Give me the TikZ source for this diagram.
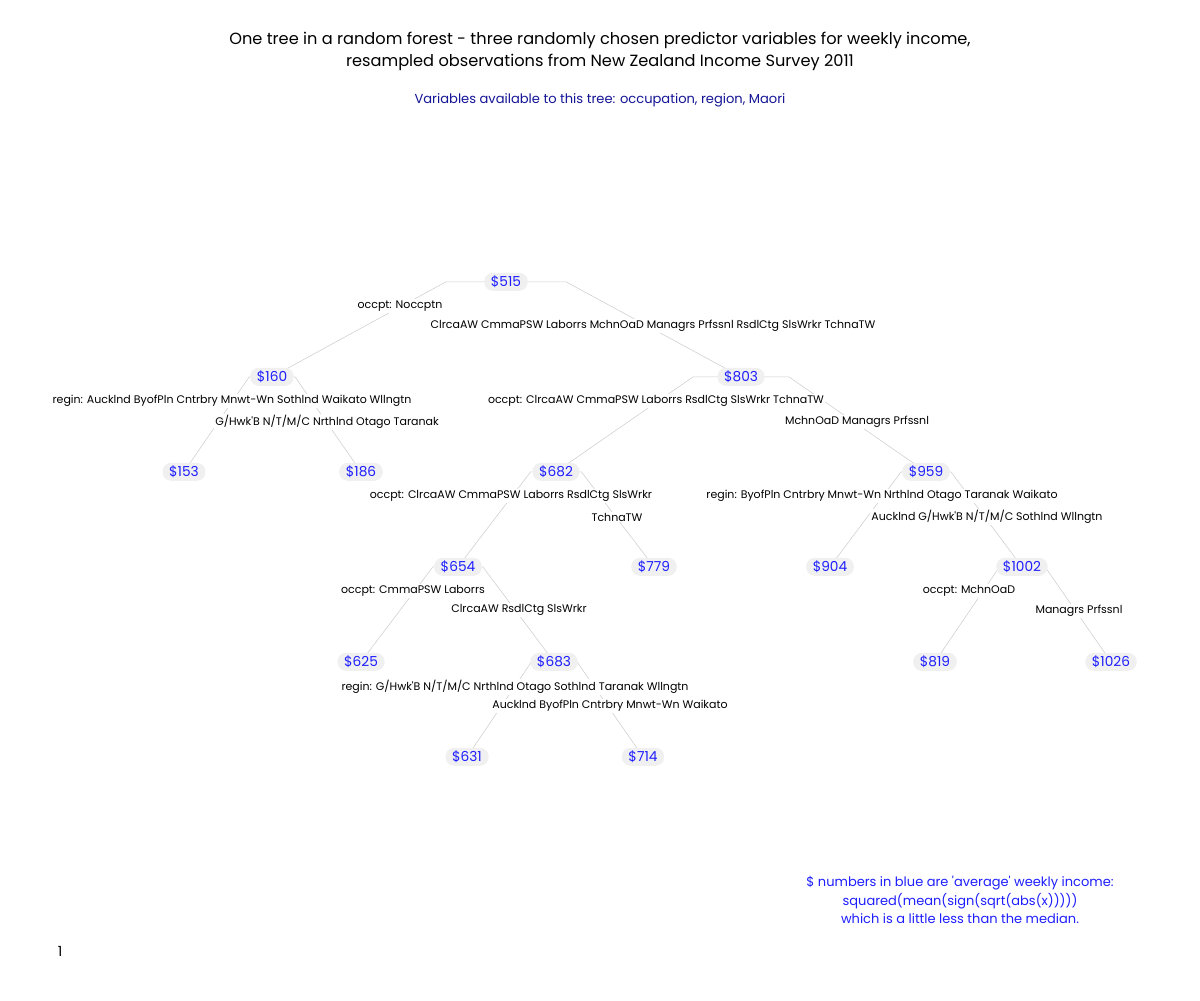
\documentclass[tikz,border=0pt]{standalone}
\usepackage{fontspec}
\setmainfont{Poppins}
\usetikzlibrary{backgrounds}

\definecolor{valblue}{RGB}{30,30,255}
\definecolor{subblue}{RGB}{20,20,150}
\definecolor{pillgray}{RGB}{240,240,240}
\definecolor{edgegray}{RGB}{205,205,205}

\newcommand\branch[2]{%
  \path (#1) -- (#2) coordinate[pos=0.2] (#1#2m);
  \draw[edge] (#1.center) -- (#1#2m |- #1.center) -- (#2.center);}

\begin{document}
\begin{tikzpicture}[x=0.75pt,y=-0.75pt,
    val/.style={fill=pillgray,text=valblue,rounded corners=6.5pt,minimum height=13.5pt,
      inner xsep=5pt,inner ysep=1pt,yshift=-0.6pt,font=\fontsize{10.3}{12}\selectfont},
    split/.style={fill=white,inner sep=1pt,yshift=-1.5pt,font=\fontsize{8.25}{10}\selectfont},
    edge/.style={draw=edgegray,line width=0.4pt}]
    \useasboundingbox (0,0) rectangle (1200,1000);

    \node[align=center,font=\fontsize{12.15}{16.5}\selectfont] (title) at (600,51)
      {One tree in a random forest - three randomly chosen predictor variables for weekly income,\\
       resampled observations from New Zealand Income Survey 2011};
    \node[text=subblue,font=\fontsize{9.8}{11}\selectfont] (subtitle) at (600,100)
      {Variables available to this tree: occupation, region, Maori};

    \node[val] (t515) at (506,281) {\$515};
    \node[val] (t160) at (272,376) {\$160};
    \node[val] (t803) at (741,376) {\$803};
    \node[val] (t153) at (184,471) {\$153};
    \node[val] (t186) at (361,471) {\$186};
    \node[val] (t682) at (556,471) {\$682};
    \node[val] (t959) at (926,471) {\$959};
    \node[val] (t654) at (458,566) {\$654};
    \node[val] (t779) at (654,566) {\$779};
    \node[val] (t904) at (830,566) {\$904};
    \node[val] (t1002) at (1022,566) {\$1002};
    \node[val] (t625) at (361,661) {\$625};
    \node[val] (t683) at (554,661) {\$683};
    \node[val] (t819) at (935,661) {\$819};
    \node[val] (t1026) at (1111,661) {\$1026};
    \node[val] (t631) at (467,756) {\$631};
    \node[val] (t714) at (643,756) {\$714};

    \begin{pgfonlayer}{background}
      \branch{t515}{t160} \branch{t515}{t803}
      \branch{t160}{t153} \branch{t160}{t186}
      \branch{t803}{t682} \branch{t803}{t959}
      \branch{t682}{t654} \branch{t682}{t779}
      \branch{t959}{t904} \branch{t959}{t1002}
      \branch{t654}{t625} \branch{t654}{t683}
      \branch{t1002}{t819} \branch{t1002}{t1026}
      \branch{t683}{t631} \branch{t683}{t714}
    \end{pgfonlayer}

    \node[split] (s515l) at (400,304) {occpt: Noccptn};
    \node[split] (s515r) at (653,324) {ClrcaAW CmmaPSW Laborrs MchnOaD Managrs Prfssnl RsdlCtg SlsWrkr TchnaTW};
    \node[split] (s160l) at (232,399) {regin: Aucklnd ByofPln Cntrbry Mnwt-Wn Sothlnd Waikato Wllngtn};
    \node[split] (s160r) at (327,420) {G/Hwk\textquotesingle B N/T/M/C Nrthlnd Otago Taranak};
    \node[split] (s803l) at (656,399) {occpt: ClrcaAW CmmaPSW Laborrs RsdlCtg SlsWrkr TchnaTW};
    \node[split] (s803r) at (857,420) {MchnOaD Managrs Prfssnl};
    \node[split] (s682l) at (511,494) {occpt: ClrcaAW CmmaPSW Laborrs RsdlCtg SlsWrkr};
    \node[split] (s682r) at (617,515) {TchnaTW};
    \node[split] (s959l) at (882,494) {regin: ByofPln Cntrbry Mnwt-Wn Nrthlnd Otago Taranak Waikato};
    \node[split] (s959r) at (987,515) {Aucklnd G/Hwk\textquotesingle B N/T/M/C Sothlnd Wllngtn};
    \node[split] (s654l) at (413,589) {occpt: CmmaPSW Laborrs};
    \node[split] (s654r) at (519,608) {ClrcaAW RsdlCtg SlsWrkr};
    \node[split] (s1002l) at (969,589) {occpt: MchnOaD};
    \node[split] (s1002r) at (1079,609) {Managrs Prfssnl};
    \node[split] (s683l) at (515,685) {regin: G/Hwk\textquotesingle B N/T/M/C Nrthlnd Otago Sothlnd Taranak Wllngtn};
    \node[split] (s683r) at (610,704) {Aucklnd ByofPln Cntrbry Mnwt-Wn Waikato};

    \node[align=center,text=valblue,font=\fontsize{9.75}{13.9}\selectfont] (note) at (960,900)
      {\$ numbers in blue are \textquotesingle average\textquotesingle\ weekly income:\\
       squared(mean(sign(sqrt(abs(x)))))\\
       which is a little less than the median.};
    \node[font=\fontsize{10.5}{12}\selectfont] (page) at (60,951) {1};
  \end{tikzpicture}
\end{document}
